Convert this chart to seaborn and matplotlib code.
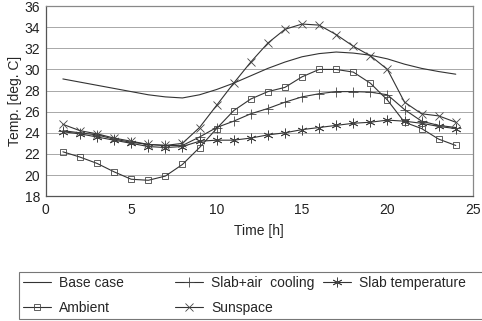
"""Temperature profiles over a day: base case, ambient, slab cooling and sunspace."""
import matplotlib
matplotlib.use("Agg")
import matplotlib.pyplot as plt
import numpy as np
import pandas as pd
import seaborn as sns

HOURS = list(range(1, 25))
BASE_CASE = [29.1, 28.8, 28.5, 28.2, 27.9, 27.6, 27.4, 27.3, 27.6, 28.1, 28.7, 29.4,
             30.1, 30.7, 31.2, 31.5, 31.65, 31.55, 31.35, 31.0, 30.5, 30.1, 29.8, 29.55]
AMBIENT = [22.2, 21.7, 21.1, 20.3, 19.6, 19.5, 19.9, 21.0, 22.6, 24.4, 26.1, 27.2,
           27.9, 28.3, 29.3, 30.0, 30.0, 29.75, 28.7, 27.1, 25.0, 24.4, 23.4, 22.8]
SLAB_AIR = [24.2, 24.0, 23.8, 23.4, 23.1, 22.9, 22.8, 22.8, 23.6, 24.5, 25.1, 25.8,
            26.3, 26.9, 27.4, 27.7, 27.9, 27.9, 27.85, 27.6, 26.2, 25.1, 24.7, 24.5]
SLAB_TEMP = [24.1, 23.9, 23.6, 23.3, 23.0, 22.7, 22.6, 22.7, 23.2, 23.3, 23.3, 23.5,
             23.8, 24.0, 24.3, 24.5, 24.7, 24.9, 25.0, 25.2, 25.1, 24.9, 24.6, 24.4]
SUNSPACE = [24.8, 24.2, 23.9, 23.5, 23.2, 22.9, 22.8, 23.0, 24.5, 26.6, 28.7, 30.7,
            32.5, 33.8, 34.3, 34.2, 33.3, 32.2, 31.3, 30.0, 26.9, 25.8, 25.6, 25.0]
X_TICKS = [0, 5, 10, 15, 20, 25]
Y_TICKS = list(range(18, 37, 2))

# label, values, marker, marker size
SERIES = [("Base case", BASE_CASE, None, 0),
          ("Ambient", AMBIENT, "s", 5),
          ("Slab+air  cooling", SLAB_AIR, "+", 7),
          ("Sunspace", SUNSPACE, "x", 6),
          ("Slab temperature", SLAB_TEMP, (6, 2, 0), 7)]

sns.set_style("white")
plt.rcParams["font.family"] = ["Liberation Sans", "DejaVu Sans"]

fig = plt.figure(figsize=(4.82, 3.21), dpi=100)
ax = fig.add_axes([0.095, 0.389, 0.886, 0.592])

handles = []
for label, vals, marker, ms in SERIES:
    df = pd.DataFrame({"Time": HOURS, "Temp": vals})
    kw = dict(marker=marker, markersize=ms, markerfacecolor="none",
              markeredgecolor="#444444", markeredgewidth=0.6) if marker else {}
    sns.lineplot(data=df, x="Time", y="Temp", ax=ax, color="#333333",
                 linewidth=0.8, label=label, legend=False, **kw)
    handles.append(ax.lines[-1])

ax.set_xlim(0, 25)
ax.set_ylim(18, 36)
ax.set_xticks(X_TICKS)
ax.set_yticks(Y_TICKS)
ax.yaxis.grid(True, color="#9a9a9a", linewidth=0.6)
ax.xaxis.grid(False)
ax.tick_params(axis="both", labelsize=10, colors="#222222", length=3,
               width=0.7, pad=1)
ax.tick_params(axis="x", direction="inout", length=4, pad=3)
ax.set_xlabel("Time [h]", fontsize=10, labelpad=5)
ax.set_ylabel("Temp. [deg. C]", fontsize=10, labelpad=2)
for side in ("left", "bottom"):
    ax.spines[side].set_color("#555555")
    ax.spines[side].set_linewidth(0.9)
for side in ("top", "right"):
    ax.spines[side].set_color("#888888")
    ax.spines[side].set_linewidth(0.9)

# pad the first column so the three legend columns share one width
labels = ["Base case" + " " * 11, "Ambient", "Slab+air  cooling", "Sunspace",
          "Slab temperature    "]
leg = fig.legend(handles, labels, ncol=3, loc="upper left",
                 bbox_to_anchor=(0.039, 0.153), fontsize=10, frameon=True,
                 fancybox=False, numpoints=1, handlelength=2.0,
                 handletextpad=0.6, columnspacing=0.6, labelspacing=0.8,
                 borderpad=0.3, borderaxespad=0)
leg.get_frame().set_edgecolor("#555555")
leg.get_frame().set_linewidth(0.8)

fig.savefig("out.png", dpi=100)
